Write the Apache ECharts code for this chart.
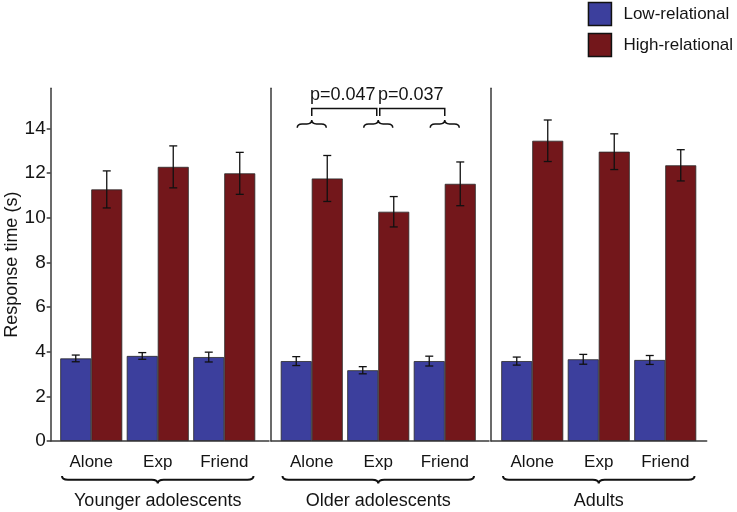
<!DOCTYPE html>
<html><head><meta charset="utf-8">
<script src="https://cdn.jsdelivr.net/npm/echarts@6/dist/echarts.min.js"></script>
<style>html,body{margin:0;padding:0;background:#fff}#c{width:737px;height:512px}</style>
</head><body><div id="c"></div>
<script>
// ---- data ----
const categories = ['Alone', 'Exp', 'Friend'];
const groups = ['Younger adolescents', 'Older adolescents', 'Adults'];
const seriesNames = ['Low-relational', 'High-relational'];
const lowYounger = [3.70, 3.81, 3.76];
const lowYoungerErr = [0.15, 0.15, 0.22];
const highYounger = [11.27, 12.28, 11.99];
const highYoungerErr = [0.83, 0.94, 0.94];
const lowOlder = [3.58, 3.17, 3.58];
const lowOlderErr = [0.20, 0.16, 0.22];
const highOlder = [11.76, 10.27, 11.52];
const highOlderErr = [1.03, 0.68, 0.98];
const lowAdults = [3.58, 3.66, 3.63];
const lowAdultsErr = [0.18, 0.22, 0.20];
const highAdults = [13.45, 12.96, 12.35];
const highAdultsErr = [0.93, 0.80, 0.70];
const yTicks = [0, 2, 4, 6, 8, 10, 12, 14];
const pLabels = ['p=0.047', 'p=0.037'];

// ---- styling / layout ----
const FONT = 'Liberation Sans';
const INK = '#141414';
const BLUE = '#3c3f9d';
const RED = '#73171b';
const Y_MAX = 15.8;
const TOP = 88.3, HEIGHT = 352.7;
const frames = [[50.7, 269], [271, 489], [491, 706.7]];
const barLefts = [58, 278.5, 499];
const BAND_W = 199.5;
const BAR_W = 31;

const lows = [lowYounger, lowOlder, lowAdults];
const lowErrs = [lowYoungerErr, lowOlderErr, lowAdultsErr];
const highs = [highYounger, highOlder, highAdults];
const highErrs = [highYoungerErr, highOlderErr, highAdultsErr];

function bracePath(x1, x2, y0, h, d) {
  const xm = (x1 + x2) / 2, ym = y0 + d * h * 0.5, yt = y0 + d * h;
  const r = Math.min(6, (x2 - x1) / 6);
  return `M${x1},${y0} Q${x1},${ym} ${x1 + r},${ym} L${xm - r},${ym} Q${xm},${ym} ${xm},${yt} ` +
         `Q${xm},${ym} ${xm + r},${ym} L${x2 - r},${ym} Q${x2},${ym} ${x2},${y0}`;
}

const grid = [], xAxis = [], yAxis = [], series = [];
for (let i = 0; i < 3; i++) {
  grid.push({ left: frames[i][0], width: frames[i][1] - frames[i][0], top: TOP, height: HEIGHT, outerBoundsMode: 'none', containLabel: false });
}
for (let i = 0; i < 3; i++) {
  grid.push({ left: barLefts[i], width: BAND_W, top: TOP, height: HEIGHT, outerBoundsMode: 'none', containLabel: false });
}
const axisLineStyle = { color: '#3a3a3a', width: 1.5 };
// frame axes
for (let i = 0; i < 3; i++) {
  xAxis.push({ type: 'value', gridIndex: i, min: 0, max: 1, axisLine: { show: true, onZero: false, lineStyle: axisLineStyle },
    axisTick: { show: false }, axisLabel: { show: false }, splitLine: { show: false } });
  yAxis.push({ type: 'value', gridIndex: i, min: 0, max: Y_MAX,
    axisLine: { show: true, lineStyle: axisLineStyle },
    axisTick: { show: i === 0, length: 4, inside: false, customValues: yTicks, lineStyle: axisLineStyle },
    axisLabel: { show: i === 0, customValues: yTicks, fontSize: 19, color: INK, fontFamily: FONT, margin: 5 },
    splitLine: { show: false },
    name: i === 0 ? 'Response time (s)' : '', nameLocation: 'middle', nameGap: 29,
    nameTextStyle: { fontSize: 18, color: INK, fontFamily: FONT } });
}
// bar axes
for (let i = 0; i < 3; i++) {
  xAxis.push({ type: 'category', gridIndex: 3 + i, data: categories,
    axisLine: { show: false }, axisTick: { show: false },
    axisLabel: { fontSize: 17, color: INK, fontFamily: FONT, margin: 13 } });
  yAxis.push({ type: 'value', gridIndex: 3 + i, min: 0, max: Y_MAX, show: false, splitLine: { show: false } });
}

function errRender(sign) {
  return function (params, api) {
    const x = api.value(0), v = api.value(1), e = api.value(2);
    const top = api.coord([x, v + e]);
    const bot = api.coord([x, v - e]);
    const px = top[0] + sign * BAR_W / 2;
    const st = { stroke: '#111', lineWidth: 1.3 };
    return { type: 'group', children: [
      { type: 'line', shape: { x1: px, y1: top[1], x2: px, y2: bot[1] }, style: st },
      { type: 'line', shape: { x1: px - 4, y1: top[1], x2: px + 4, y2: top[1] }, style: st },
      { type: 'line', shape: { x1: px - 4, y1: bot[1], x2: px + 4, y2: bot[1] }, style: st }
    ] };
  };
}

for (let i = 0; i < 3; i++) {
  const xi = 3 + i;
  series.push({ type: 'bar', name: seriesNames[0], xAxisIndex: xi, yAxisIndex: xi, data: lows[i],
    barWidth: BAR_W, barGap: '0%', itemStyle: { color: BLUE, borderColor: '#2a2a2a', borderWidth: 0.8 } });
  series.push({ type: 'bar', name: seriesNames[1], xAxisIndex: xi, yAxisIndex: xi, data: highs[i],
    barWidth: BAR_W, barGap: '0%', itemStyle: { color: RED, borderColor: '#2a2a2a', borderWidth: 0.8 } });
  series.push({ type: 'custom', xAxisIndex: xi, yAxisIndex: xi, z: 5, clip: false,
    data: lows[i].map((v, k) => [k, v, lowErrs[i][k]]), renderItem: errRender(-1) });
  series.push({ type: 'custom', xAxisIndex: xi, yAxisIndex: xi, z: 5, clip: false,
    data: highs[i].map((v, k) => [k, v, highErrs[i][k]]), renderItem: errRender(1) });
  // bottom brace + group label
  series.push({ type: 'custom', xAxisIndex: xi, yAxisIndex: xi, z: 5, clip: false, silent: true,
    data: [[0, 0]],
    renderItem: (function (gi) {
      return function (params, api) {
        const band = api.size([1, 0])[0];
        const x1 = api.coord([0, 0])[0] - band / 2 + 4;
        const x2 = api.coord([2, 0])[0] + band / 2 - 4;
        const y0 = api.coord([0, 0])[1] + 35;
        return { type: 'group', children: [
          { type: 'path', shape: { pathData: bracePath(x1, x2, y0, 7.5, 1) }, style: { fill: null, stroke: '#111', lineWidth: 2 } },
          { type: 'text', style: { text: groups[gi], x: (x1 + x2) / 2, y: y0 + 25, align: 'center', verticalAlign: 'middle',
            textAlign: 'center', textVerticalAlign: 'middle', font: '18px "' + FONT + '"', fill: INK } }
        ] };
      };
    })(i) });
}

// significance annotation in the middle panel
series.push({ type: 'custom', xAxisIndex: 4, yAxisIndex: 4, z: 6, clip: false, silent: true,
  data: [[0, 0]],
  renderItem: function (params, api) {
    const yTop = api.coord([0, 14.89])[1];
    const c = [0, 1, 2].map(k => api.coord([k, 0])[0]);
    const st = { fill: null, stroke: '#111', lineWidth: 1.5 };
    const legB = yTop + 7.5;
    const ch = [];
    const spans = [[c[0], c[1] - 1.5], [c[1] + 1.5, c[2]]];
    spans.forEach((s, k) => {
      ch.push({ type: 'polyline', shape: { points: [[s[0], legB], [s[0], yTop], [s[1], yTop], [s[1], legB]] }, style: st });
      ch.push({ type: 'text', style: { text: pLabels[k], x: (s[0] + s[1]) / 2 - 1.5, y: yTop - 13.5, align: 'center', verticalAlign: 'middle',
        textAlign: 'center', textVerticalAlign: 'middle', font: '18px "' + FONT + '"', fill: INK } });
    });
    c.forEach(cx => {
      ch.push({ type: 'path', shape: { pathData: bracePath(cx - 14.5, cx + 14.5, yTop + 19.2, 7.7, -1) }, style: st });
    });
    return { type: 'group', children: ch };
  } });

const chart = echarts.init(document.getElementById('c'), null, { renderer: 'canvas' });
chart.setOption({
  animation: false,
  backgroundColor: '#fff',
  textStyle: { fontFamily: FONT },
  legend: { orient: 'vertical', left: 587.7, top: 1.7, itemWidth: 23, itemHeight: 23, itemGap: 6.5, icon: 'rect', padding: 0,
    data: seriesNames, textStyle: { fontSize: 17, color: INK, fontFamily: FONT, padding: [0, 0, 0, 7] },
    itemStyle: { borderColor: '#111', borderWidth: 1.5 } },
  grid, xAxis, yAxis, series
});
</script></body></html>
